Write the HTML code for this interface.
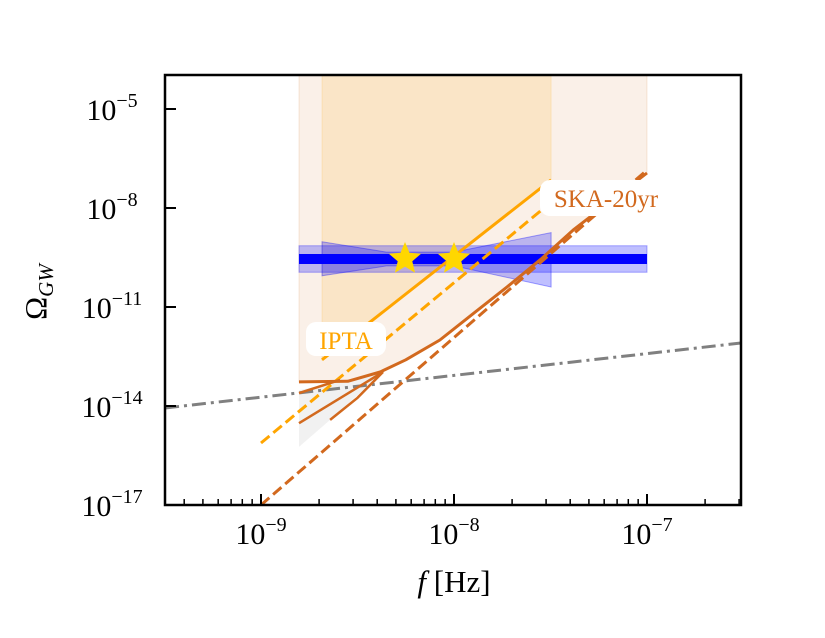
<!DOCTYPE html>
<html><head><meta charset="utf-8"><style>
body{margin:0;background:#fff}
svg text{font-family:"Liberation Serif","DejaVu Serif",serif}
</style></head><body>
<svg id="chart" width="825" height="633" xmlns="http://www.w3.org/2000/svg"></svg>
<script>
// data (log10 f [Hz], log10 Omega)
const xTicks=[-9,-8,-7];
const yTicks=[-17,-14,-11,-8,-5];
const iptaSolid=[[-8.684,-12.6],[-7.497,-7.15]];
const iptaDashed=[[-9.0,-15.12],[-7.497,-7.82]];
const skaDashed=[[-9.0,-17.0],[-7.0,-6.85]];
const skaSolid=[[-8.803,-13.27],[-8.55,-13.25],[-8.383,-12.97],[-8.25,-12.6],[-8.073,-12.0],[-7.9,-11.2],[-7.725,-10.39],[-7.55,-9.55],[-7.383,-8.67],[-7.0,-6.94]];
const skaBranch1=[[-8.803,-14.52],[-8.368,-12.97]];
const skaBranch2=[[-8.642,-14.42],[-8.5,-13.75],[-8.368,-12.97]];
const skaBranch3=[[-8.803,-13.61],[-8.59,-13.21]];
const grayPoly=[[-8.803,-13.52],[-8.368,-12.97],[-8.642,-14.42],[-8.803,-15.24]];
const bgLine=[[-9.497,-14.06],[-6.513,-12.09]];
const bandCenter=-9.545;
const bandWide=[-8.803,-7.0];
const bandNarrow=[-8.684,-7.497];
const bowLeft=[0.52,0.51];
const bowMid=[0.21,0.21];
const bowRight=[0.8,0.85];
const starsF=[-8.254,-8.0];
const starsO=[-9.545,-9.545];

const X0=165,X1=741,Y0=75,Y1=505;
const fx=v=>261+(v+9)*193;
const fy=v=>505-(v+17)*33;
const svg=document.getElementById('chart');
const NS='http://www.w3.org/2000/svg';
function mk(tag,attrs,name,parent){
  const e=document.createElementNS(NS,tag);
  for(const k in attrs)e.setAttribute(k,attrs[k]);
  
  
  (parent||svg).appendChild(e);return e;
}
const pts=a=>a.map(p=>fx(p[0]).toFixed(1)+','+fy(p[1]).toFixed(1)).join(' ');
const clip=mk('clipPath',{id:'cp'},'plot-clip');
mk('rect',{x:X0,y:Y0,width:X1-X0,height:Y1-Y0},'clip-rect',clip);
const g=mk('g',{'clip-path':'url(#cp)'},'plot-area');

mk('polygon',{points:pts([[bandWide[0],-3.9],...skaSolid,[bandWide[1],-3.9]]),fill:'rgba(210,105,30,0.1)',stroke:'rgba(210,105,30,0.15)'},'ska-region',g);
mk('polygon',{points:pts([[bandNarrow[0],-3.9],iptaSolid[0],iptaSolid[1],[bandNarrow[1],-3.9]]),fill:'rgba(255,165,0,0.14)',stroke:'rgba(255,165,0,0.15)'},'ipta-region',g);
mk('polygon',{points:pts(grayPoly),fill:'rgba(200,200,200,0.25)'},'gray-region',g);

mk('polygon',{points:pts([[bandWide[0],bandCenter+0.4],[bandWide[1],bandCenter+0.4],[bandWide[1],bandCenter-0.4],[bandWide[0],bandCenter-0.4]]),fill:'rgba(0,0,255,0.25)',stroke:'rgba(0,0,255,0.3)'},'blue-outer-band',g);
const bm0=-8.35,bm1=-8.0;
mk('polygon',{points:pts([[bandNarrow[0],bandCenter+bowLeft[0]],[bm0,bandCenter+bowMid[0]],[bm1,bandCenter+bowMid[0]],[bandNarrow[1],bandCenter+bowRight[0]],[bandNarrow[1],bandCenter-bowRight[1]],[bm1,bandCenter-bowMid[1]],[bm0,bandCenter-bowMid[1]],[bandNarrow[0],bandCenter-bowLeft[1]]]),fill:'rgba(0,0,255,0.25)',stroke:'rgba(0,0,255,0.35)'},'blue-bowtie',g);
mk('line',{x1:fx(bandWide[0]),x2:fx(bandWide[1]),y1:fy(bandCenter),y2:fy(bandCenter),stroke:'#0000ff','stroke-width':10},'blue-center-band',g);

mk('polyline',{points:pts(bgLine),fill:'none',stroke:'#808080','stroke-width':3,'stroke-dasharray':'14,5,3,5'},'background-dashdot-line',g);
mk('polyline',{points:pts(skaDashed),fill:'none',stroke:'#d2691e','stroke-width':3,'stroke-dasharray':'11,5'},'ska-dashed-line',g);
mk('polyline',{points:pts(iptaDashed),fill:'none',stroke:'#ffa500','stroke-width':3,'stroke-dasharray':'11,5'},'ipta-dashed-line',g);
mk('polyline',{points:pts(iptaSolid),fill:'none',stroke:'#ffa500','stroke-width':3},'ipta-solid-line',g);
mk('polyline',{points:pts(skaSolid),fill:'none',stroke:'#d2691e','stroke-width':3,'stroke-linejoin':'round'},'ska-solid-line',g);
mk('polyline',{points:pts(skaBranch1),fill:'none',stroke:'#d2691e','stroke-width':2.5},'ska-branch-1',g);
mk('polyline',{points:pts(skaBranch2),fill:'none',stroke:'#d2691e','stroke-width':2.5},'ska-branch-2',g);
mk('polyline',{points:pts(skaBranch3),fill:'none',stroke:'#d2691e','stroke-width':2.5},'ska-branch-3',g);

function star(cx,cy,r){let s=[];for(let i=0;i<10;i++){const a=-Math.PI/2+i*Math.PI/5;const rr=i%2?r*0.45:r;s.push((cx+rr*Math.cos(a)).toFixed(1)+','+(cy+rr*Math.sin(a)).toFixed(1));}return s.join(' ');}
starsF.forEach((f,i)=>{
  const s=mk('polygon',{points:star(fx(f),fy(starsO[i]),17),fill:'#ffd700'},'star-marker',g);
  
});

mk('rect',{x:306,y:322,width:80,height:34,rx:10,fill:'#fff'},'ipta-label-bg');
mk('text',{x:346,y:349,'font-size':25,fill:'#ffa500','text-anchor':'middle'},'ipta-label').textContent='IPTA';
mk('rect',{x:540,y:180,width:130,height:36,rx:10,fill:'#fff'},'ska-label-bg');
mk('text',{x:606,y:207,'font-size':25,fill:'#d2691e','text-anchor':'middle'},'ska-label').textContent='SKA-20yr';

mk('rect',{x:X0,y:Y0,width:X1-X0,height:Y1-Y0,fill:'none',stroke:'#000','stroke-width':2.5},'plot-frame');

for(let d=-10;d<=-7;d++){
  for(let m=1;m<10;m++){
    const v=d+Math.log10(m);const x=fx(v);
    if(x<X0||x>X1)continue;
    const major=m===1;
    mk('line',{x1:x,x2:x,y1:Y1,y2:Y1-(major?11:6),stroke:'#000','stroke-width':major?2:1.5},major?'x-major-tick':'x-minor-tick');
  }
}
xTicks.forEach(t=>{
  const tx=mk('text',{x:fx(t),y:544,'font-size':30,'text-anchor':'middle'},'x-tick-label');
  tx.innerHTML='10<tspan dy="-13" font-size="20">−'+(-t)+'</tspan>';
});
yTicks.forEach(t=>{
  const y=fy(t);
  if(t!==-17)mk('line',{x1:X0,x2:X0+11,y1:y,y2:y,stroke:'#000','stroke-width':2},'y-major-tick');
  const tx=mk('text',{x:112,y:y+11,'font-size':30,'text-anchor':'middle'},'y-tick-label');
  tx.innerHTML='10<tspan dy="-13" font-size="20">−'+(-t)+'</tspan>';
});

const xt=mk('text',{x:454,y:592,'font-size':31,'text-anchor':'middle'},'x-axis-title');
xt.innerHTML='<tspan font-style="italic">f</tspan> [Hz]';
const yt=mk('text',{x:46,y:292,'font-size':31,'text-anchor':'middle',transform:'rotate(-90 46 292)'},'y-axis-title');
yt.innerHTML='Ω<tspan dy="7" font-size="21" font-style="italic">GW</tspan>';
</script>
</body></html>
